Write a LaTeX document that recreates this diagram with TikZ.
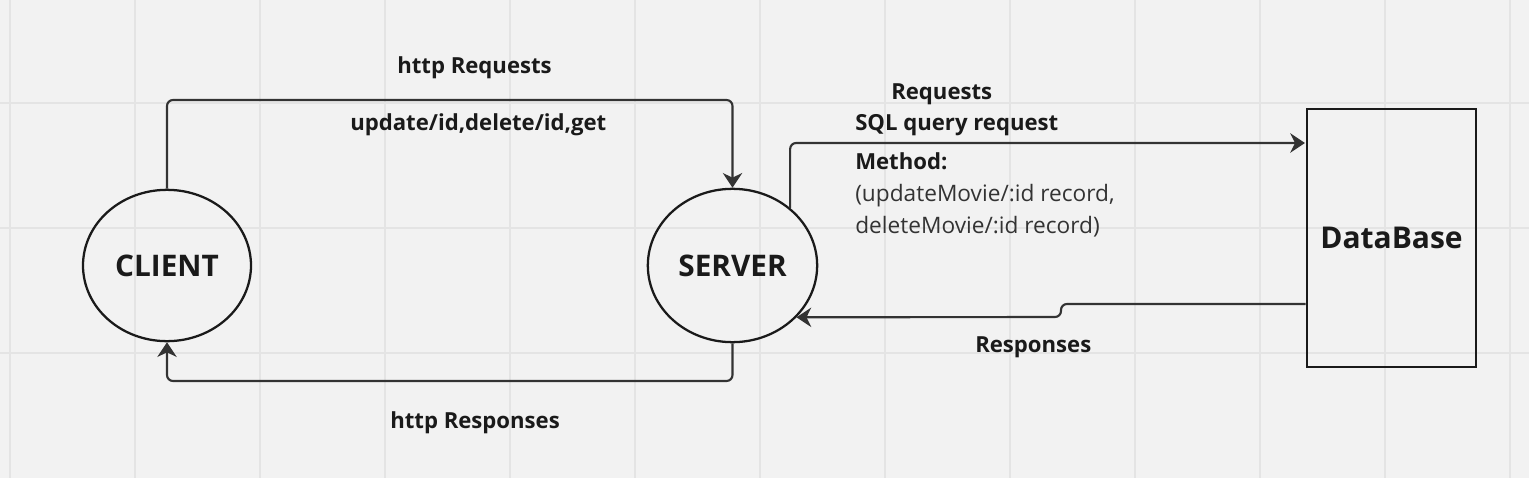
\documentclass[tikz,border=0pt]{standalone}
\usepackage{fontspec}
\setmainfont{Open Sans}
\usetikzlibrary{shapes.geometric,arrows.meta}
\definecolor{bg}{HTML}{F2F2F2}
\definecolor{gridc}{HTML}{E4E4E4}
\definecolor{ink}{HTML}{1A1A1A}
\definecolor{linec}{HTML}{333333}
\begin{document}
\begin{tikzpicture}[x=0.75pt,y=-0.75pt,
  ellnode/.style={ellipse,draw=ink,line width=1.7pt,font=\bfseries\fontsize{22.3}{26}\selectfont,text=ink,inner sep=0pt},
  dbnode/.style={rectangle,draw=ink,line width=2pt,font=\bfseries\fontsize{22.5}{26}\selectfont,text=ink,inner sep=0pt,minimum width=126.75pt,minimum height=193.5pt},
  conn/.style={draw=linec,line width=1.6pt,rounded corners=4.5pt,-{Stealth[length=11pt,width=14.5pt,inset=3.5pt]}},
  lbl/.style={anchor=base west,inner sep=0pt,font=\bfseries\fontsize{16.6}{20}\selectfont,text=ink},
  txt/.style={anchor=base west,inner sep=0pt,font=\fontsize{17}{20}\selectfont,text=linec},
  gridline/.style={draw=gridc,line width=1.1pt}
]
\fill[bg] (0,0) rectangle (1529,478);
\useasboundingbox (0,0) rectangle (1529,478);
\foreach \i in {0,...,12} \draw[gridline] (10+125*\i,0) -- (10+125*\i,478);
\foreach \j in {103,228,353} \draw[gridline] (0,\j) -- (1529,\j);

\node[ellnode,minimum width=126pt,minimum height=113.5pt] (client) at (167,265.5) {CLIENT};
\node[ellnode,minimum width=127pt,minimum height=115pt] (server) at (732.5,265.5) {SERVER};
\node[dbnode] (db) at (1391.5,238) {DataBase};

\coordinate (c1) at (167,100);
\coordinate (c2) at (732.5,100);
\draw[conn] (client.north) -- (c1) -- (c2) -- (server.north);

\coordinate (c3) at (732.5,381);
\coordinate (c4) at (167,381);
\draw[conn] (server.south) -- (c3) -- (c4) -- (client.south);

\coordinate (dbin) at (1305,143);
\draw[conn] (server.45) |- (dbin);

\coordinate (d1) at (1061,304);
\coordinate (d2) at (1061,317);
\draw[conn] (db.west |- d1) -- (d1) -- (d2) -- (server.-39);

\node[lbl] (l1) at (397,74) {http Requests};
\node[lbl] (l2) at (350,131) {update/id,delete/id,get};
\node[lbl] (l3) at (390,428) {http Responses};
\node[lbl] (l4) at (891,99) {Requests};
\node[lbl] (l5) at (855,130.5) {SQL query request};
\node[lbl] (l6) at (855,169) {Method:};
\node[txt] (l7) at (855,201) {(updateMovie/:id record,};
\node[txt] (l8) at (855,233) {deleteMovie/:id record)};
\node[lbl] (l9) at (975,352) {Responses};
\end{tikzpicture}
\end{document}
